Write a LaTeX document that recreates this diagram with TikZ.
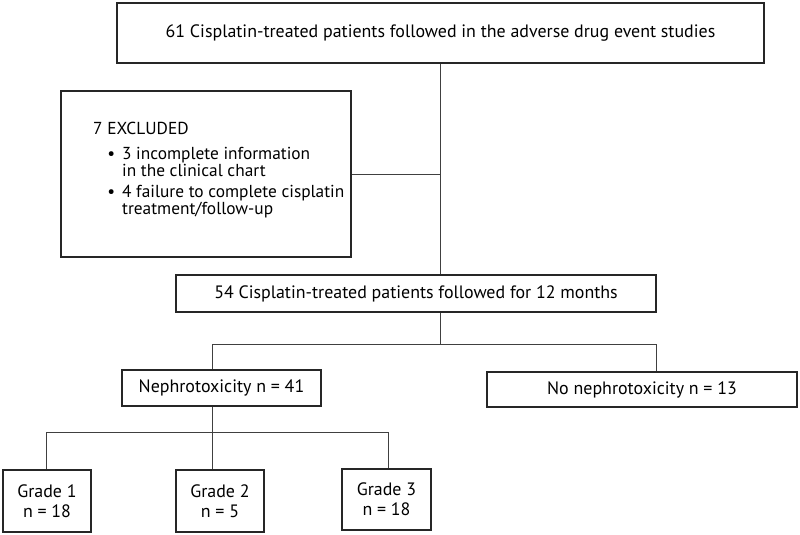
\documentclass[tikz,border=0pt]{standalone}
\usepackage{fontspec}
\setmainfont{PT Sans}
\tikzset{
    box/.style={draw=black!85, line width=1.7pt, inner sep=0pt, align=center},
    link/.style={draw=black!75, line width=0.8pt},
}

\begin{document}
\begin{tikzpicture}[x=0.03cm, y=-0.03cm, font=\fontsize{15.3}{17}\selectfont]
    \useasboundingbox (0,0) rectangle (800,535);
    \node[box, minimum width=19.41cm, minimum height=1.8cm] (top) at (440.5,33) {61 Cisplatin-treated patients followed in the adverse drug event studies};
    \node[box, minimum width=8.7cm, minimum height=4.98cm] (excl) at (206,174) {};
    \node[anchor=north west, inner sep=0pt, align=left, font=\fontsize{14.8}{12.6}\selectfont] (excltxt) at (93,122) {7 EXCLUDED\\[8.5pt]
        \begin{tabular}[t]{@{\hspace{12pt}}l@{\hspace{6pt}}l@{}}
        \textbullet & 3 incomplete information\\
                    & in the clinical chart\\[4pt]
        \textbullet & 4 failure to complete cisplatin\\
                    & treatment/follow-up
        \end{tabular}};
    \node[box, minimum width=14.4cm, minimum height=1.11cm] (mid) at (416,293.5) {54 Cisplatin-treated patients followed for 12 months};
    \node[box, minimum width=5.97cm, minimum height=1.08cm] (neph) at (221.5,388) {Nephrotoxicity n = 41};
    \node[box, minimum width=9.3cm, minimum height=1.05cm] (noneph) at (642,389.5) {No nephrotoxicity n = 13};
    \node[box, minimum width=2.64cm, minimum height=1.86cm] (g1) at (47,501) {Grade 1\\n = 18};
    \node[box, minimum width=2.64cm, minimum height=1.86cm] (g2) at (220,501) {Grade 2\\n = 5};
    \node[box, minimum width=2.67cm, minimum height=1.83cm] (g3) at (386.5,499.5) {Grade 3\\n = 18};
    \coordinate (s1) at (212,344);
    \coordinate (s2) at (656,344);
    \coordinate (t1) at (46,432);
    \coordinate (t2) at (212,432);
    \coordinate (t3) at (388,432);
    \draw[link] (top.south) -- (top.south |- mid.north);
    \draw[link] (excl.east) -- (excl.east -| top.south);
    \draw[link] (top.south |- mid.south) |- (s2) -- (s2 |- noneph.north);
    \draw[link] (s1) -- (s1 |- neph.north);
    \draw[link] (s1) -- (top.south |- s1);
    \draw[link] (t2 |- neph.south) -- (t2);
    \draw[link] (t1 |- g1.north) -- (t1) -- (t3) -- (t3 |- g3.north);
    \draw[link] (t2) -- (t2 |- g2.north);
\end{tikzpicture}
\end{document}
